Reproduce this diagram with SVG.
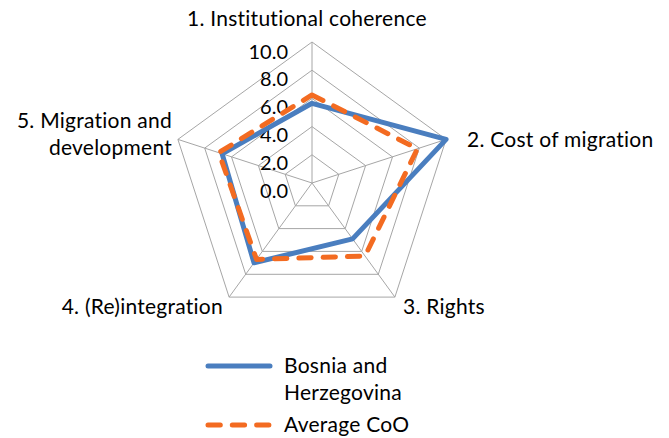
<svg xmlns="http://www.w3.org/2000/svg" width="669" height="438" viewBox="0 0 669 438">
<style>
text{font-family:Lato,"Open Sans","DejaVu Sans",sans-serif;font-size:21px;letter-spacing:0.25px;fill:#000}
.grid{fill:none;stroke:#a6a6a6;stroke-width:1}
.tick{text-anchor:end;font-size:20px;letter-spacing:0}
.blue{fill:none;stroke:#4a7ebf;stroke-width:5;stroke-linejoin:round;stroke-linecap:round}
.orange{fill:none;stroke:#f36b21;stroke-width:5;stroke-linejoin:round;stroke-linecap:round;stroke-dasharray:12.3 12}
</style>
<rect width="669" height="438" fill="#fff"/>
<g id="grid">
<polygon class="grid" points="312,42 446.1,139.4 394.9,297.1 229.1,297.1 177.9,139.4"/>
<polygon class="grid" points="312,70.2 419.3,148.1 378.3,274.3 245.7,274.3 204.7,148.1"/>
<polygon class="grid" points="312,98.4 392.5,156.9 361.7,251.4 262.3,251.4 231.5,156.9"/>
<polygon class="grid" points="312,126.6 365.6,165.6 345.2,228.6 278.8,228.6 258.4,165.6"/>
<polygon class="grid" points="312,154.8 338.8,174.3 328.6,205.8 295.4,205.8 285.2,174.3"/>
<path class="grid" d="M312,183L312,42M312,183L446.1,139.4M312,183L394.9,297.1M312,183L229.1,297.1M312,183L177.9,139.4"/>
</g>
<g id="ticks">
<text class="tick" x="288" y="58.5">10.0</text>
<text class="tick" x="288" y="86">8.0</text>
<text class="tick" x="288" y="114">6.0</text>
<text class="tick" x="288" y="142">4.0</text>
<text class="tick" x="288" y="170">2.0</text>
<text class="tick" x="288" y="198">0.0</text>
</g>
<g id="axis-labels">
<text id="label1" x="187" y="26">1. Institutional coherence</text>
<text id="label2" x="467" y="147">2. Cost of migration</text>
<text id="label3" x="403" y="314">3. Rights</text>
<text id="label4" x="223" y="314" text-anchor="end">4. (Re)integration</text>
<g id="label5" text-anchor="end"><text x="172" y="128">5. Migration and</text><text x="172" y="155">development</text></g>
</g>
<g id="series">
<polygon id="bosnia" class="blue" points="312,103.3 446.1,139.4 352.6,238.9 254,262.8 222.1,153.8"/>
<polygon id="average" class="orange" points="312,94.9 417.4,148.8 365,256 256.5,259.4 218.8,152.7"/>
</g>
<g id="legend">
<line class="blue" x1="208" y1="366" x2="270" y2="366"/>
<text x="284" y="373">Bosnia and</text>
<text x="284" y="400">Herzegovina</text>
<line class="orange" x1="208" y1="425" x2="270" y2="425"/>
<text x="284" y="432">Average CoO</text>
</g>
</svg>
